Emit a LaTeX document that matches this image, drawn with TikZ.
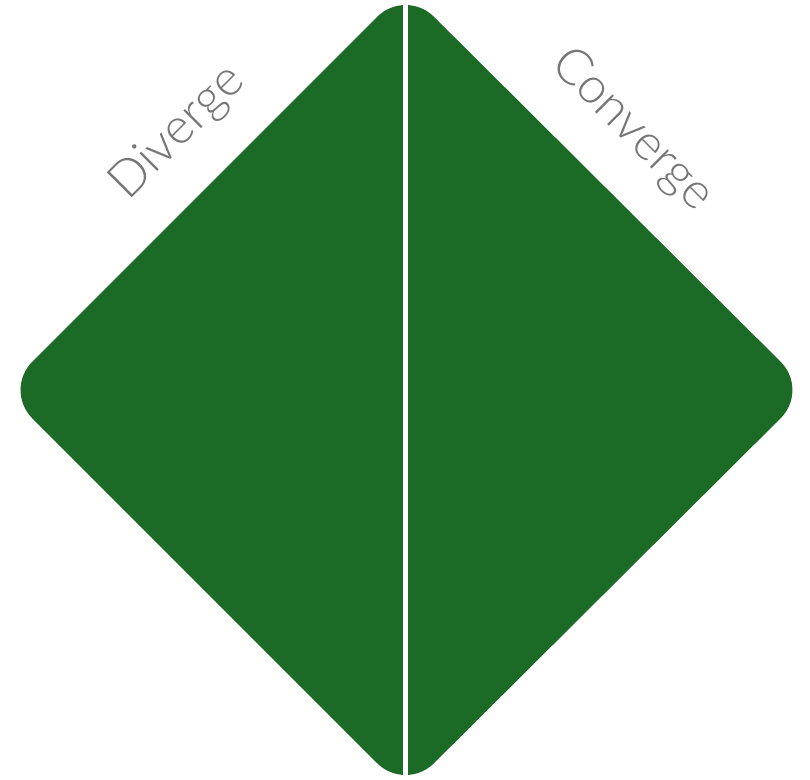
\documentclass[tikz,border=0pt]{standalone}
\usepackage{fontspec}
\newfontfamily\labelfont{Lato Light}
\definecolor{leafgreen}{RGB}{27,107,38}
\definecolor{labelgray}{RGB}{118,118,118}
\tikzset{
  phase/.style={text=labelgray, font=\labelfont\fontsize{50}{50}\selectfont, inner sep=0pt},
}
\begin{document}
\begin{tikzpicture}[x=1pt, y=-1pt]
            \useasboundingbox (0,0) rectangle (810,779);
            % diamond, split down the middle
            \fill[leafgreen, rounded corners=40pt] (4,390) -- (405.5,-11.5) -- (809,390) -- (405.5,791.5) -- cycle;
            \draw[white, line width=5pt] (405.5,-20) -- (405.5,800);
            \node[phase, rotate=45] (diverge) at (178,133) {Diverge};
            \node[phase, rotate=-45] (converge) at (632,130) {Converge};
        \end{tikzpicture}
\end{document}
